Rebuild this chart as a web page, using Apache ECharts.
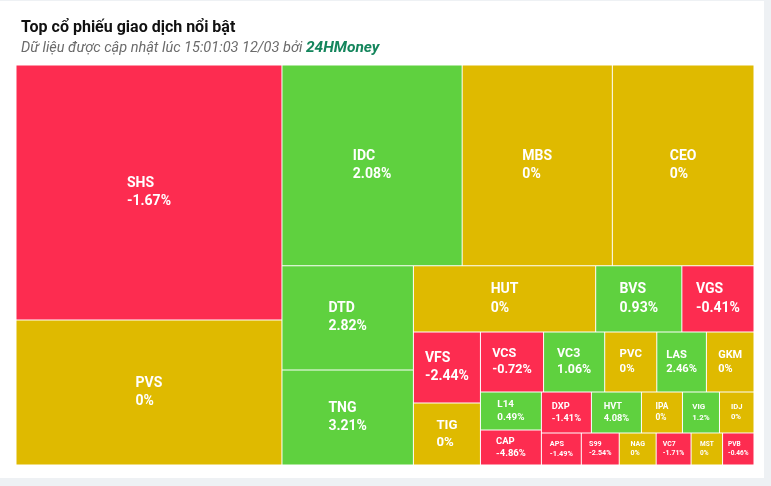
<!DOCTYPE html>
<html>
<head>
<meta charset="utf-8">
<script src="https://cdn.jsdelivr.net/npm/echarts@6/dist/echarts.min.js"></script>
<style>
html,body{margin:0;padding:0;background:#eef1f4;width:771px;height:486px;overflow:hidden;}
#card{position:absolute;left:0;top:1px;width:764px;height:477px;background:#fff;}
#chart{width:764px;height:477px;}
</style>
</head>
<body>
<div id="card"><div id="chart"></div></div>
<script>
// Stock tickers (sorted by traded value, descending)
const tickers = ['SHS','PVS','IDC','MBS','CEO','DTD','TNG','HUT','BVS','VGS','VFS','TIG','VCS','VC3','PVC','LAS','GKM','L14','CAP','DXP','HVT','IPA','VIG','IDJ','APS','S99','NAG','VC7','MST','PVB'];
// Relative traded value (cell size)
const sizes = [67830,38570,36180,30150,28440,13700,12500,12100,5720,4790,4757,4154,3780,3660,3120,2970,2850,2318,2135,2050,2050,1681,1517,1415,1280,1216,1184,1120,1010,1008];
// Price change (%)
const changes = [-1.67,0,2.08,0,0,2.82,3.21,0,0.93,-0.41,-2.44,0,-0.72,1.06,0,2.46,0,0.49,-4.86,-1.41,4.08,0,1.2,0,-1.49,-2.54,0,-1.71,0,-0.46];

const RED='#fd2c50', GREEN='#5fd13f', YELLOW='#dfba00';
function colorOf(c){return c>0?GREEN:(c<0?RED:YELLOW);}

// Plot area in layout units (same aspect as the grid)
const PW = 738, PH = 400;

// Squarified treemap layout with alternating direction
function squarified(values, W, H){
  const total = values.reduce((s,v)=>s+v,0);
  const parent = {x:0,y:0,width:W,height:H};
  const plot = {x:0,y:0,parent:parent};
  const ar = (w,h)=>Math.max(w/h,h/w);
  const g = {height:H,width:W,plot:plot,direction:0,total:0,nW:0,lW:0,nH:0,lH:0,elArr:[],
             lP:{total:0,lH:0,nH:0,lW:0,nW:0,nR:0,lR:0}};
  function add(el){
    g.lP.total = g.elArr[g.elArr.length-1];
    g.total += el;
    if(g.direction===0){
      g.lW=g.nW; g.lP.lH=g.lP.total/g.lW; g.lP.lR=ar(g.lW,g.lP.lH);
      g.nW=g.total/g.height; g.lP.nH=g.lP.total/g.nW; g.lP.nR=ar(g.nW,g.lP.nH);
    } else {
      g.lH=g.nH; g.lP.lW=g.lP.total/g.lH; g.lP.lR=ar(g.lP.lW,g.lH);
      g.nH=g.total/g.width; g.lP.nW=g.lP.total/g.nH; g.lP.nR=ar(g.lP.nW,g.nH);
    }
    g.elArr.push(el);
  }
  const out=[];
  function calc(last){
    const end=g.elArr.length-1;
    let gW=g.lW, gH=g.lH, keep;
    if(last){gW=g.nW; gH=g.nH;} else keep=g.elArr[end];
    g.elArr.forEach((p,i)=>{
      if(last || i<end){
        let pW,pH;
        if(g.direction===0){pW=gW; pH=p/pW;} else {pH=gH; pW=p/pH;}
        out.push([plot.x,plot.y,plot.x+pW,plot.y+pH]);
        if(g.direction===0) plot.y+=pH; else plot.x+=pW;
      }
    });
    g.nW=0; g.lW=0; g.elArr=[]; g.total=0;
    if(g.direction===0) g.width-=gW; else g.height-=gH;
    plot.y = parent.y + (parent.height - g.height);
    plot.x = parent.x + (parent.width - g.width);
    g.direction = 1-g.direction;
    if(!last) add(keep);
  }
  values.forEach((v,i)=>{
    add(W*H*(v/total));
    if(g.lP.nR > g.lP.lR) calc(false);
    if(i===values.length-1) calc(true);
  });
  return out;
}

const rects = squarified(sizes, PW, PH);
const data = rects.map((r,i)=>({value:[r[0],r[1],r[2],r[3],i], name:tickers[i]}));

function renderItem(params, api){
  const i = api.value(4);
  const p0 = api.coord([api.value(0), api.value(1)]);
  const p1 = api.coord([api.value(2), api.value(3)]);
  const x = Math.min(p0[0],p1[0]), y = Math.min(p0[1],p1[1]);
  const w = Math.abs(p1[0]-p0[0]), h = Math.abs(p1[1]-p0[1]);
  const fs = Math.min(14, 0.205*Math.sqrt(w*h));
  const rich = {a:{align:'left',fontSize:fs,lineHeight:Math.round(fs*1.3*10)/10,fontWeight:'bold',fontFamily:'Roboto',fill:'#fff'}};
  return {
    type:'rect',
    shape:{x:x+0.5,y:y+0.5,width:Math.max(w-1,0),height:Math.max(h-1,0)},
    style:{fill:colorOf(changes[i])},
    textContent:{
      type:'text',
      style:{text:'{a|'+tickers[i]+'}\n{a|'+changes[i]+'%}',rich:rich,fill:'#fff',
             align:'center',verticalAlign:'middle',fontSize:fs,fontWeight:'bold',fontFamily:'Roboto'}
    },
    textConfig:{position:'inside'}
  };
}

const chart = echarts.init(document.getElementById('chart'),null,{renderer:'canvas'});
chart.setOption({
  animation:false,
  title:{
    left:16, top:14,
    text:'Top cổ phiếu giao dịch nổi bật',
    textStyle:{fontFamily:'Roboto',fontSize:16,fontWeight:'bold',color:'#111'},
    subtext:'Dữ liệu được cập nhật lúc 15:01:03 12/03 bởi {b|24HMoney}',
    subtextStyle:{fontFamily:'Roboto',fontSize:14.5,fontStyle:'italic',color:'#6b6b6b',
      rich:{b:{fontFamily:'Roboto',fontSize:15.5,fontStyle:'italic',fontWeight:'bold',color:'#14855c'}}},
    itemGap:4
  },
  grid:{left:16, top:64, width:738, height:400},
  xAxis:{type:'value',min:0,max:PW,show:false},
  yAxis:{type:'value',min:0,max:PH,inverse:true,show:false},
  tooltip:{show:false},
  series:[{
    type:'custom',
    renderItem:renderItem,
    encode:{x:[0,2],y:[1,3]},
    data:data,
    clip:false
  }]
});
</script>
</body>
</html>
